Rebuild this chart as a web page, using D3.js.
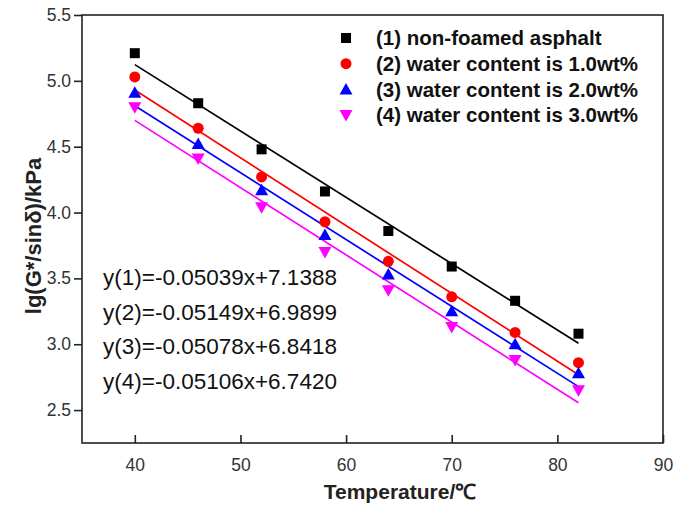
<!DOCTYPE html>
<html><head><meta charset="utf-8">
<script src="https://cdn.jsdelivr.net/npm/d3@7"></script>
<style>body{margin:0;background:#fff}svg{display:block}</style>
</head><body><svg id="c" width="675" height="508"></svg>
<script>
const temps = [40, 46, 52, 58, 64, 70, 76, 82];
const seriesNames = ["(1) non-foamed asphalt","(2) water content is 1.0wt%","(3) water content is 2.0wt%","(4) water content is 3.0wt%"];
const s1 = [5.21, 4.83, 4.48, 4.16, 3.86, 3.59, 3.33, 3.08];
const s2 = [5.03, 4.64, 4.27, 3.93, 3.63, 3.36, 3.09, 2.86];
const s3 = [4.91, 4.52, 4.17, 3.83, 3.53, 3.25, 3.00, 2.78];
const s4 = [4.80, 4.41, 4.04, 3.70, 3.41, 3.13, 2.88, 2.65];
const slopes = [-0.05039, -0.05149, -0.05078, -0.05106];
const intercepts = [7.1388, 6.9899, 6.8418, 6.7420];
const equations = ["y(1)=-0.05039x+7.1388","y(2)=-0.05149x+6.9899","y(3)=-0.05078x+6.8418","y(4)=-0.05106x+6.7420"];
const xTicks = [40, 50, 60, 70, 80, 90];
const yTicks = [2.5, 3.0, 3.5, 4.0, 4.5, 5.0, 5.5];
const colors = ["#000000", "#ff0000", "#0000ff", "#ff00ff"];
const symbols = ["square", "circle", "triangle", "triangleDown"];
const allSeries = [s1, s2, s3, s4];

const svg = d3.select("#c");
const L = 82, R = 663, T = 15, B = 443;
const x = d3.scaleLinear().domain([35, 90]).range([L, R]);
const y = d3.scaleLinear().domain([2.25, 5.5]).range([B, T]);
const font = "Arial, 'Liberation Sans', sans-serif";

// frame
svg.append("rect").attr("x", L).attr("y", T).attr("width", R - L).attr("height", B - T)
  .attr("fill", "none").attr("stroke", "#222").attr("stroke-width", 1.6);

// x axis (ticks inward)
const xa = svg.append("g").attr("transform", `translate(0,${B})`)
  .call(d3.axisBottom(x).tickValues(xTicks).tickSizeInner(-8).tickSizeOuter(0).tickPadding(16).tickFormat(d3.format("d")));
xa.select(".domain").remove();
xa.selectAll("line").attr("stroke", "#222").attr("stroke-width", 1.6);
xa.selectAll("text").attr("font-family", font).attr("font-size", 17.5).attr("fill", "#333");

// y axis (ticks outward)
const ya = svg.append("g").attr("transform", `translate(${L},0)`)
  .call(d3.axisLeft(y).tickValues(yTicks).tickSize(8).tickPadding(3).tickFormat(d3.format(".1f")));
ya.select(".domain").remove();
ya.selectAll("line").attr("stroke", "#222").attr("stroke-width", 1.6);
ya.selectAll("text").attr("font-family", font).attr("font-size", 17.5).attr("fill", "#333");

// titles
svg.append("text").attr("x", 400).attr("y", 499).attr("text-anchor", "middle")
  .attr("font-family", font).attr("font-size", 21).attr("font-weight", "bold").attr("fill", "#222")
  .text("Temperature/℃");
svg.append("text").attr("transform", `translate(41,236) rotate(-90)`).attr("text-anchor", "middle")
  .attr("font-family", font).attr("font-size", 22).attr("font-weight", "bold").attr("fill", "#222")
  .text("lg(G*/sinδ)/kPa");

// fit lines
const fitX = [d3.min(temps), d3.max(temps)];
slopes.forEach((m, i) => {
  svg.append("line")
    .attr("x1", x(fitX[0])).attr("y1", y(m * fitX[0] + intercepts[i]))
    .attr("x2", x(fitX[1])).attr("y2", y(m * fitX[1] + intercepts[i]))
    .attr("stroke", colors[i]).attr("stroke-width", 1.7);
});

function marker(g, type, cx, cy, color) {
  if (type === "square") {
    g.append("rect").attr("x", cx - 5).attr("y", cy - 5).attr("width", 10).attr("height", 10).attr("fill", color);
  } else if (type === "circle") {
    g.append("circle").attr("cx", cx).attr("cy", cy).attr("r", 5.5).attr("fill", color);
  } else if (type === "triangle") {
    g.append("path").attr("d", `M${cx},${cy - 6.5}L${cx + 6.5},${cy + 5}L${cx - 6.5},${cy + 5}Z`).attr("fill", color);
  } else {
    g.append("path").attr("d", `M${cx},${cy + 6.5}L${cx + 6.5},${cy - 5}L${cx - 6.5},${cy - 5}Z`).attr("fill", color);
  }
}

const pts = svg.append("g");
allSeries.forEach((s, i) => {
  s.forEach((v, j) => marker(pts, symbols[i], x(temps[j]), y(v), colors[i]));
});

// legend
const lg = svg.append("g");
seriesNames.forEach((n, i) => {
  const yy = 38 + i * 25.7;
  marker(lg, symbols[i], 346, yy, colors[i]);
  lg.append("text").attr("x", 376).attr("y", yy).attr("dy", "0.35em")
    .attr("font-family", font).attr("font-size", 20.5).attr("font-weight", "bold").attr("fill", "#111").text(n);
});

// equations
equations.forEach((e, i) => {
  svg.append("text").attr("x", 103).attr("y", 277 + i * 34.7).attr("dy", "0.35em")
    .attr("font-family", font).attr("font-size", 22.5).attr("fill", "#111").text(e);
});
</script></body></html>
